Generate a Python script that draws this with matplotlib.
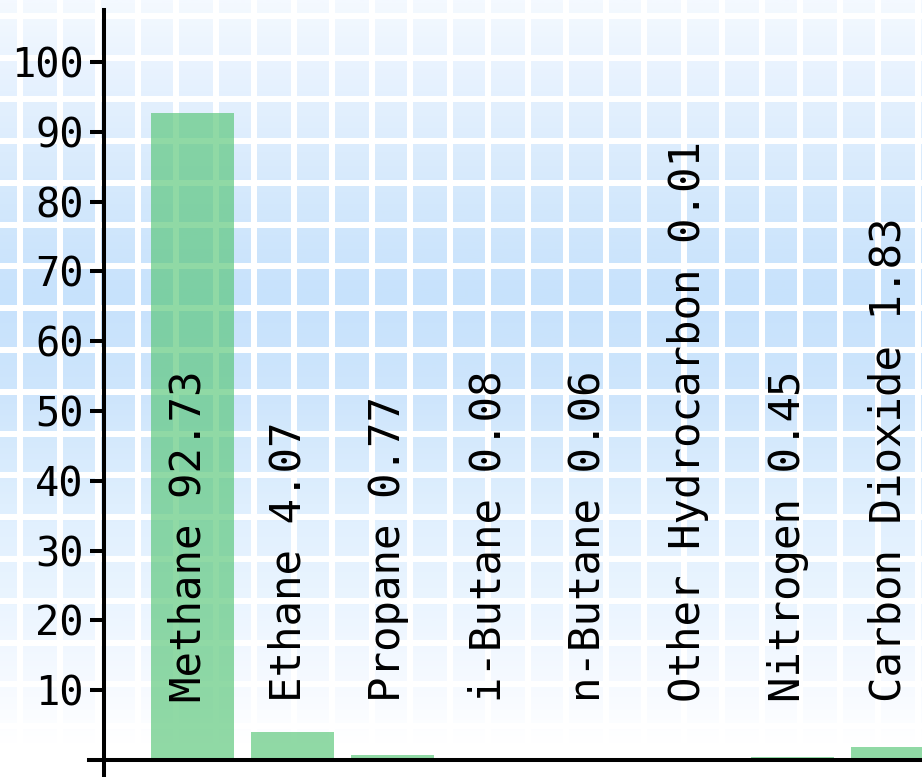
import numpy as np
import matplotlib
matplotlib.use("Agg")
import matplotlib.pyplot as plt
from matplotlib.colors import LinearSegmentedColormap

# gas composition (mol %)
components = ["Methane", "Ethane", "Propane", "i-Butane", "n-Butane",
              "Other Hydrocarbon", "Nitrogen", "Carbon Dioxide"]
values = [92.73, 4.07, 0.77, 0.08, 0.06, 0.01, 0.45, 1.83]
yticks = [10, 20, 30, 40, 50, 60, 70, 80, 90, 100]

W, H = 922, 777
mono = "DejaVu Sans Mono"

fig = plt.figure(figsize=(W / 100, H / 100), dpi=100)

# background: vertical blue gradient with a white grid over the whole figure
bg = fig.add_axes([0, 0, 1, 1], zorder=0)
stops = [(0.0, "#f4f9ff"), (0.13, "#e3f0fe"), (0.26, "#d3e8fc"),
         (0.38, "#c7e2fc"), (0.52, "#cfe6fc"), (0.65, "#dfeffe"),
         (0.78, "#ebf5ff"), (0.90, "#f8fbff"), (0.96, "#ffffff"), (1.0, "#ffffff")]
cmap = LinearSegmentedColormap.from_list("sky", stops)
grad = np.linspace(0, 1, 400).reshape(-1, 1)
bg.imshow(grad, cmap=cmap, aspect="auto", extent=(0, W, H, 0), interpolation="bilinear")
for gx in np.round(np.arange(20.5, W, 39.0)):
    bg.axvline(gx, color="white", lw=3.0, antialiased=False)
for gy in np.round(np.arange(15.7, 740, 41.8)):
    bg.axhline(gy, color="white", lw=3.2, antialiased=False)
bg.set_xlim(0, W)
bg.set_ylim(H, 0)
bg.axis("off")

# main plot
left = 104 / W
ax = fig.add_axes([left, 0, 1 - left, 1 - 10 / H], zorder=1)
ax.patch.set_alpha(0)

x = np.arange(len(components))
ax.bar(x, values, width=0.83, color="#55c575", alpha=0.65, zorder=2)

for i, (name, v) in enumerate(zip(components, values)):
    ax.text(i - 0.04, 8.3, f"{name} {v:.2f}", rotation=90, ha="center", va="bottom",
            fontsize=30.5, family=mono, color="black", zorder=3)

ax.set_xlim(-0.88, 7.30)
ax.set_ylim(-2.44, 107.45)

for s in ["top", "right", "bottom"]:
    ax.spines[s].set_visible(False)
ax.spines["left"].set_linewidth(2.9)
ax.axhline(0, xmin=-15 / (W * (1 - left)), xmax=1, color="black", lw=2.9,
           clip_on=False, zorder=4)

ax.set_xticks([])
ax.set_yticks(yticks)
ax.set_yticklabels([str(t) for t in yticks], family=mono, fontsize=29)
ax.tick_params(axis="y", direction="out", length=10, width=2.9, pad=4.5)

fig.savefig("out.png", dpi=100)
